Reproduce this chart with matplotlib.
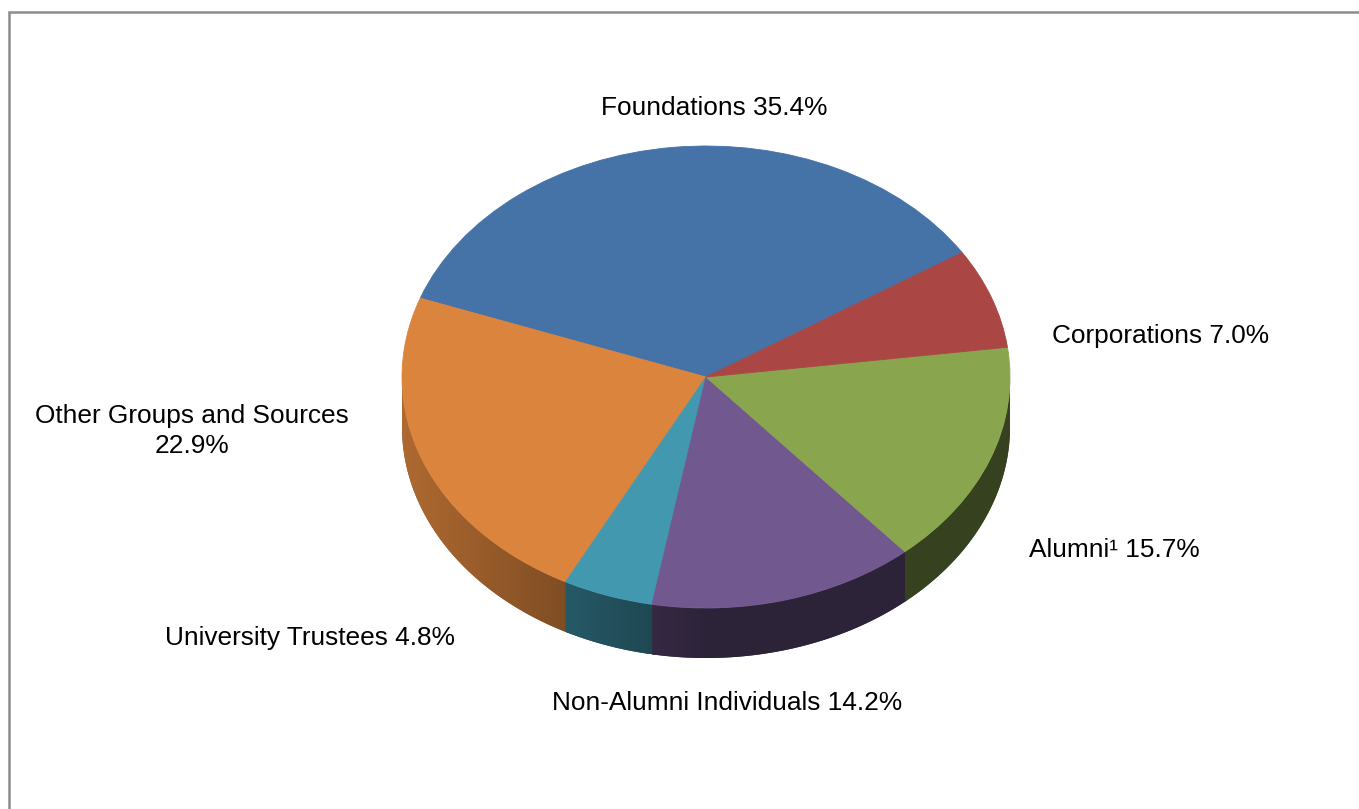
import numpy as np
import matplotlib.pyplot as plt
from matplotlib.patches import Polygon, Rectangle
from matplotlib.colors import to_rgb

plt.rcParams['font.family'] = ['Liberation Sans', 'DejaVu Sans']

# slices in drawing order (counter-clockwise from the Foundations edge)
categories = ['Foundations', 'Other Groups and Sources', 'University Trustees',
              'Non-Alumni Individuals', 'Alumni\u00b9', 'Corporations']
shares = [35.4, 22.9, 4.8, 14.2, 15.7, 7.0]
colors = ['#4572A7', '#DB843D', '#4198AF', '#71588F', '#89A54E', '#AA4643']
labels = ['Foundations 35.4%', 'Other Groups and Sources\n22.9%',
          'University Trustees 4.8%', 'Non-Alumni Individuals 14.2%',
          'Alumni\u00b9 15.7%', 'Corporations 7.0%']

W, H = 1359, 809
CX, CY = 706, 377      # centre of the top face, px
RX, RY = 304, 231      # ellipse radii, px
DEPTH = 50 / RY        # thickness of the disc in data units

fig = plt.figure(figsize=(W / 100, H / 100), dpi=100)
ax = fig.add_axes([0, 0, 1, 1])

wedges, _ = ax.pie(shares, colors=colors, startangle=32.6, counterclock=True,
                   wedgeprops=dict(linewidth=0.6, zorder=3))
for w, c in zip(wedges, colors):
    w.set_edgecolor(c)


def shade(x):
    # side walls get darker towards the right
    return 0.4 + 0.4 * np.clip(-x, 0, 1)


def wall(a, b):
    th = np.radians(np.linspace(a, b, 200))
    top = np.column_stack([np.cos(th), np.sin(th)])
    bot = np.column_stack([np.cos(th[::-1]), np.sin(th[::-1]) - DEPTH])
    return th, np.vstack([top, bot])


# front side walls
for w, c in zip(wedges, colors):
    t1, t2 = w.theta1 % 360, w.theta2 % 360
    if t2 <= t1:
        t2 += 360
    segs = []
    for lo, hi in [(180, 360), (540, 720)]:
        a, b = max(t1, lo), min(t2, hi)
        if b > a:
            segs.append((a, b))
    base = np.array(to_rgb(c))
    for a, b in segs:
        # flat backing, a touch wider, so no seams show between walls
        _, pts = wall(a, min(b + 0.5, 360 if b <= 360 else 720))
        edge = base * shade(np.cos(np.radians(b)))
        ax.add_patch(Polygon(pts, closed=True, facecolor=edge,
                             edgecolor='none', zorder=0.9))
        th, pts = wall(a, b)
        poly = Polygon(pts, closed=True, facecolor='none',
                       edgecolor='none', zorder=1)
        ax.add_patch(poly)
        x0, x1 = np.cos(th).min(), np.cos(th).max()
        y0 = np.sin(th).min() - DEPTH
        y1 = np.sin(th).max()
        xs = np.linspace(x0, x1, 300)
        img = (shade(xs)[:, None] * base[None, :])[None, :, :]
        im = ax.imshow(img, extent=(x0, x1, y0, y1), aspect='auto',
                       interpolation='bilinear', zorder=1, origin='lower')
        im.set_clip_path(poly)

# labels, positions in px
label_pos = [(714, 108), (192, 431), (310, 638), (727, 703), (1114, 550), (1161, 336)]
for txt, (px, py) in zip(labels, label_pos):
    ax.text((px - CX) / RX, (CY - py) / RY, txt, ha='center', va='center',
            fontsize=18.9, color='#000000', linespacing=1.3, zorder=5)

ax.set_aspect('auto')
ax.set_xlim(-CX / RX, (W - CX) / RX)
ax.set_ylim((CY - H) / RY, CY / RY)
ax.axis('off')

# grey frame round the chart area
fig.patches.append(Rectangle((9 / W, -0.2), 1.5, 1.2 - 12 / H,
                             transform=fig.transFigure, fill=False,
                             edgecolor='#8c8c8c', linewidth=1.8))

fig.savefig('out.png', dpi=100)
